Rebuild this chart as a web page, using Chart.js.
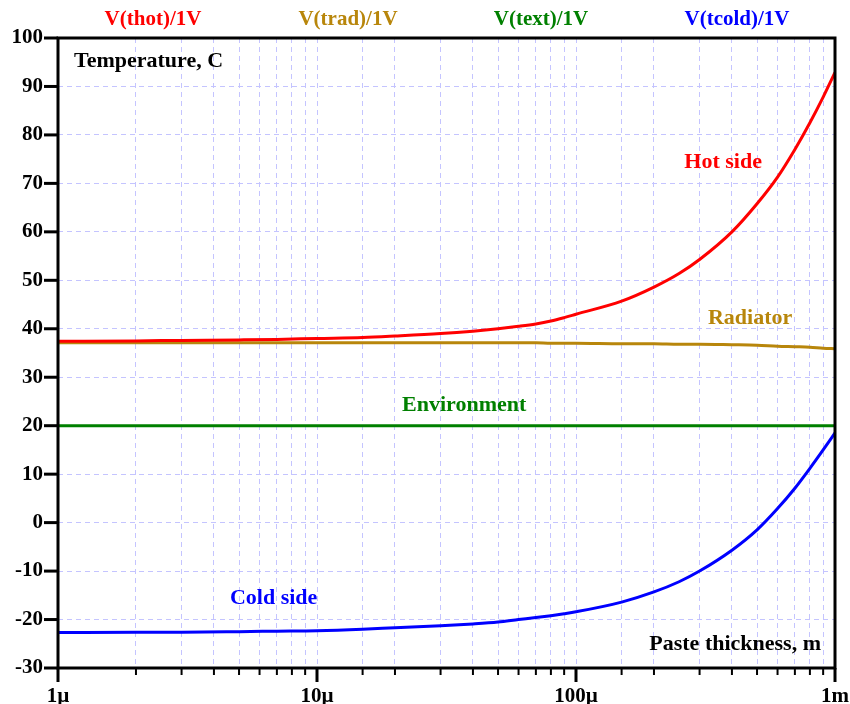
<!DOCTYPE html>
<html>
<head>
<meta charset="utf-8">
<script src="https://cdn.jsdelivr.net/npm/chart.js@4"></script>
<style>
  html, body { margin: 0; padding: 0; background: #fff; }
  #wrap { width: 850px; height: 704px; }
</style>
</head>
<body>
<div id="wrap"><canvas id="tempChart" width="850" height="704"></canvas></div>
<script>
// --- DATA ---
const thickness = [1e-6, 2e-6, 3e-6, 5e-6, 7e-6, 1e-5, 1.5e-5, 2e-5, 3e-5, 4e-5, 5e-5, 6e-5, 7e-5, 8e-5, 9e-5,
                   1e-4, 1.5e-4, 2e-4, 2.5e-4, 3e-4, 4e-4, 5e-4, 6e-4, 7e-4, 8e-4, 9e-4, 1e-3];
const tHot  = [37.4, 37.5, 37.6, 37.7, 37.8, 38.0, 38.2, 38.5, 39.0, 39.5, 40.0, 40.5, 41.0, 41.6, 42.3,
               43.0, 45.7, 48.6, 51.4, 54.3, 60.0, 65.8, 71.3, 77.0, 82.5, 87.8, 92.9];
const tRad  = [37.1, 37.1, 37.1, 37.1, 37.1, 37.1, 37.1, 37.1, 37.1, 37.1, 37.1, 37.1, 37.1, 37.0, 37.0,
               37.0, 36.9, 36.9, 36.8, 36.8, 36.7, 36.6, 36.4, 36.3, 36.2, 36.0, 35.9];
const tExt  = [20, 20, 20, 20, 20, 20, 20, 20, 20, 20, 20, 20, 20, 20, 20,
               20, 20, 20, 20, 20, 20, 20, 20, 20, 20, 20, 20];
const tCold = [-22.7, -22.6, -22.6, -22.5, -22.4, -22.3, -22.0, -21.7, -21.3, -20.9, -20.5, -20.0, -19.6, -19.2, -18.8,
               -18.4, -16.4, -14.3, -12.2, -10.0, -5.7, -1.5, 2.9, 7.1, 11.2, 15.0, 18.5];

const seriesNames = ['V(thot)/1V', 'V(trad)/1V', 'V(text)/1V', 'V(tcold)/1V'];
const seriesColors = ['#ff0000', '#b8860b', '#008000', '#0000ff'];

const xTickValues = [1e-6, 1e-5, 1e-4, 1e-3];
const xTickLabels = ['1µ', '10µ', '100µ', '1m'];
const yMin = -30, yMax = 100, yStep = 10;

// curve labels, placed in data coordinates
const curveLabels = [
    { text: 'Hot side', x: 3.7e-4, y: 74.4, color: '#ff0000' },
    { text: 'Radiator', x: 4.7e-4, y: 42.2, color: '#b8860b' },
    { text: 'Environment', x: 3.7e-5, y: 24.3, color: '#008000' },
    { text: 'Cold side', x: 6.8e-6, y: -15.6, color: '#0000ff' }
];

const FONT = '"Liberation Serif", "Times New Roman", serif';

function toPoints(ys) { return thickness.map((x, i) => ({ x: x, y: ys[i] })); }

function isDecade(v) {
    const e = Math.round(Math.log10(v));
    return Math.abs(v / Math.pow(10, e) - 1) < 1e-6;
}

// frame, tick marks, header names and text labels
const decorPlugin = {
    id: 'decor',
    afterDatasetsDraw(chart) {
        const ctx = chart.ctx;
        const a = chart.chartArea;
        const xs = chart.scales.x, ys = chart.scales.y;
        ctx.save();
        ctx.strokeStyle = '#000';
        ctx.lineWidth = 3;
        ctx.strokeRect(a.left, a.top, a.right - a.left, a.bottom - a.top);

        // y ticks
        ys.ticks.forEach(t => {
            const y = ys.getPixelForValue(t.value);
            ctx.beginPath(); ctx.moveTo(a.left - 14, y); ctx.lineTo(a.left, y); ctx.stroke();
        });
        // x ticks (major longer)
        xs.ticks.forEach(t => {
            const x = xs.getPixelForValue(t.value);
            const major = isDecade(t.value);
            ctx.lineWidth = major ? 3 : 2;
            ctx.beginPath(); ctx.moveTo(x, a.bottom); ctx.lineTo(x, a.bottom + (major ? 14 : 7)); ctx.stroke();
        });

        // header trace names
        ctx.font = 'bold 21px ' + FONT;
        ctx.textAlign = 'center';
        ctx.textBaseline = 'middle';
        const headerX = [153, 348, 541, 737];
        seriesNames.forEach((n, i) => {
            ctx.fillStyle = seriesColors[i];
            ctx.fillText(n, headerX[i], 20);
        });

        // axis titles inside plot
        ctx.fillStyle = '#000';
        ctx.font = 'bold 22px ' + FONT;
        ctx.textAlign = 'left';
        ctx.fillText('Temperature, C', a.left + 16, a.top + 23);
        ctx.textAlign = 'right';
        ctx.fillText('Paste thickness, m', a.right - 14, a.bottom - 24);

        // curve labels
        ctx.textAlign = 'center';
        curveLabels.forEach(l => {
            ctx.fillStyle = l.color;
            ctx.fillText(l.text, xs.getPixelForValue(l.x), ys.getPixelForValue(l.y));
        });
        ctx.restore();
    }
};

function initChart() {
    const ctx = document.getElementById('tempChart');
    const series = [tHot, tRad, tExt, tCold];
    new Chart(ctx, {
        type: 'line',
        data: {
            datasets: series.map((s, i) => ({
                label: seriesNames[i],
                data: toPoints(s),
                borderColor: seriesColors[i],
                borderWidth: 3,
                pointRadius: 0,
                cubicInterpolationMode: 'monotone',
                fill: false
            }))
        },
        options: {
            responsive: false,
            animation: false,
            layout: { padding: { top: 38, right: 15, left: 0, bottom: 0 } },
            plugins: { legend: { display: false }, tooltip: { enabled: false } },
            scales: {
                x: {
                    type: 'logarithmic',
                    min: 1e-6, max: 1e-3,
                    afterFit: s => { s.height = 36; s.paddingLeft = 0; s.paddingRight = 0; },
                    grid: { color: '#c4c4ff', lineWidth: 1, drawTicks: false },
                    border: { display: false, dash: [5, 4] },
                    ticks: {
                        autoSkip: false, maxRotation: 0, padding: 16,
                        color: '#000',
                        font: { family: FONT, size: 21, weight: 'bold' },
                        callback: v => {
                            const i = xTickValues.findIndex(t => Math.abs(t / v - 1) < 1e-6);
                            return i >= 0 ? xTickLabels[i] : '';
                        }
                    }
                },
                y: {
                    min: yMin, max: yMax,
                    afterFit: s => { s.width = 58; s.paddingTop = 0; s.paddingBottom = 0; },
                    grid: { color: '#c4c4ff', lineWidth: 1, drawTicks: false },
                    border: { display: false, dash: [5, 4] },
                    ticks: {
                        stepSize: yStep, padding: 15,
                        color: '#000',
                        font: { family: FONT, size: 21, weight: 'bold' }
                    }
                }
            }
        },
        plugins: [decorPlugin]
    });
}

window.addEventListener('DOMContentLoaded', initChart);
</script>
</body>
</html>
